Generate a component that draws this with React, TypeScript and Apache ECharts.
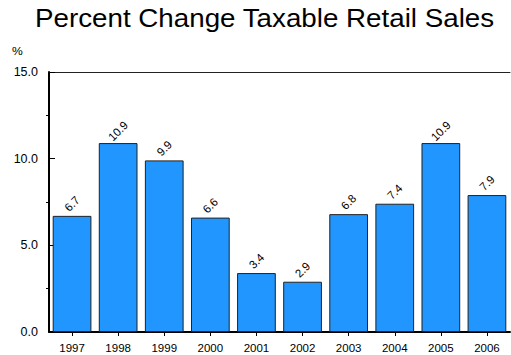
import React, { useEffect, useRef } from "react";
import * as echarts from "echarts";

const years = ["1997", "1998", "1999", "2000", "2001", "2002", "2003", "2004", "2005", "2006"];
const changes = [6.7, 10.9, 9.9, 6.6, 3.4, 2.9, 6.8, 7.4, 10.9, 7.9];
const minorTickSlots = ["0", "2.5", "5", "7.5", "10", "12.5", "15"];
const titleText = "Percent Change Taxable Retail Sales";
const unitText = "%";

const FONT = "Liberation Sans";

export default function App() {
  const ref = useRef<HTMLDivElement>(null);
  useEffect(() => {
    if (!ref.current) return;
    const chart = echarts.init(ref.current, undefined, { renderer: "svg" });
    chart.setOption({
      animation: false,
      backgroundColor: "#ffffff",
      textStyle: { fontFamily: FONT },
      graphic: [
        {
          type: "text",
          x: 35,
          y: 6,
          scaleX: 1.11,
          style: {
            text: titleText,
            fontFamily: FONT,
            fontSize: 25,
            fill: "#000",
            verticalAlign: "top",
          },
        },
        {
          type: "text",
          x: 12,
          y: 46,
          scaleX: 1.1,
          style: { text: unitText, fontFamily: FONT, fontSize: 11, fill: "#000", verticalAlign: "top" },
        },
      ],
      grid: { left: 49, top: 72, right: 1, bottom: 23, containLabel: false },
      xAxis: [
        {
          type: "category",
          data: years,
          position: "bottom",
          axisLine: { show: true, lineStyle: { color: "#000", width: 2 } },
          axisTick: { show: true, alignWithLabel: true, length: 4, lineStyle: { color: "#000", width: 1 } },
          axisLabel: { color: "#000", fontSize: 11.5, margin: 10, fontFamily: FONT },
          splitLine: { show: false },
        },
        {
          type: "category",
          data: years,
          position: "top",
          axisLine: { show: true, lineStyle: { color: "#222", width: 1 } },
          axisTick: { show: false },
          axisLabel: { show: false },
          splitLine: { show: false },
        },
      ],
      yAxis: [
        {
          type: "value",
          min: 0,
          max: 15,
          interval: 5,
          axisLine: { show: true, lineStyle: { color: "#000", width: 2 } },
          axisTick: { show: true, inside: true, length: 6, lineStyle: { color: "#000", width: 1 } },
          axisLabel: {
            color: "#000",
            fontSize: 12.5,
            margin: 11,
            fontFamily: FONT,
            formatter: (v: number) => v.toFixed(1),
          },
          splitLine: { show: false },
        },
        {
          type: "category",
          data: minorTickSlots,
          boundaryGap: false,
          position: "left",
          axisLine: { show: false },
          axisTick: {
            show: true,
            length: 3,
            interval: (i: number) => i % 2 === 1,
            lineStyle: { color: "#000", width: 1 },
          },
          axisLabel: { show: false },
          splitLine: { show: false },
        },
      ],
      series: [
        {
          type: "bar",
          data: changes,
          xAxisIndex: 0,
          yAxisIndex: 0,
          barCategoryGap: "16%",
          itemStyle: { color: "#2196FF", borderColor: "#222", borderWidth: 1 },
          label: {
            show: true,
            position: "top",
            rotate: 45,
            align: "center",
            verticalAlign: "middle",
            distance: 12,
            fontSize: 11.5,
            color: "#000",
            fontFamily: FONT,
            formatter: (p: any) => Number(p.value).toFixed(1),
          },
        },
      ],
    });
    return () => chart.dispose();
  }, []);
  return (
    <div
      ref={ref}
      style={{ position: "absolute", left: 0, top: 0, width: 511, height: 355, background: "#fff" }}
    />
  );
}
